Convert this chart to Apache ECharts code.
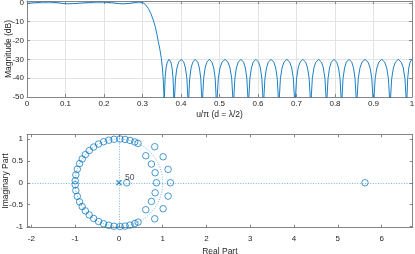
<!DOCTYPE html>
<html><head><meta charset="utf-8">
<script src="https://cdn.jsdelivr.net/npm/echarts@6/dist/echarts.min.js"></script>
<style>html,body{margin:0;padding:0;background:#fff}#c{width:415px;height:254px}</style>
</head><body><div id="c"></div>
<script>
// ---------- Top panel: magnitude response, [u/pi, dB] ----------
const passband = [[0,-0.2],[0.02,0.1],[0.04,0.35],[0.06,0.4],[0.08,0.1],[0.1,-0.5],[0.12,-0.4],
  [0.14,-0.1],[0.16,0.2],[0.18,0.4],[0.2,0.4],[0.22,0.1],[0.24,-0.4],[0.25,-0.5],[0.265,-0.3],
  [0.28,0.2],[0.29,0.4],[0.296,0.3]];
const transition = [[0.302,0],[0.308,-1],[0.315,-2.9],[0.322,-5.8],[0.328,-9.1],[0.333,-12.5],
  [0.337,-16.2],[0.341,-20.5],[0.3455,-25.1],[0.349,-29.5],[0.3515,-34],[0.354,-41],[0.3555,-48]];
const stopband = [
  [0.356,-55],[0.3586,-40.2],[0.3612,-34.6],[0.3643,-31.5],[0.369,-30],[0.3737,-31.5],[0.3768,-34.6],[0.3794,-40.2],
  [0.382,-55],[0.3857,-40.2],[0.3894,-34.6],[0.3938,-31.5],[0.4005,-30],[0.4072,-31.5],[0.4116,-34.6],[0.4153,-40.2],
  [0.419,-55],[0.4226,-40.2],[0.4262,-34.6],[0.4305,-31.5],[0.437,-30],[0.4435,-31.5],[0.4478,-34.6],[0.4514,-40.2],
  [0.455,-55],[0.4588,-40.2],[0.4625,-34.6],[0.467,-31.5],[0.4738,-30],[0.4805,-31.5],[0.485,-34.6],[0.4888,-40.2],
  [0.4925,-55],[0.4969,-40.2],[0.5012,-34.6],[0.5064,-31.5],[0.5143,-30],[0.5221,-31.5],[0.5273,-34.6],[0.5317,-40.2],
  [0.536,-55],[0.5399,-40.2],[0.5438,-34.6],[0.5485,-31.5],[0.5555,-30],[0.5625,-31.5],[0.5672,-34.6],[0.5711,-40.2],
  [0.575,-55],[0.5789,-40.2],[0.5828,-34.6],[0.5875,-31.5],[0.5945,-30],[0.6015,-31.5],[0.6062,-34.6],[0.6101,-40.2],
  [0.614,-55],[0.618,-40.2],[0.622,-34.6],[0.6268,-31.5],[0.634,-30],[0.6412,-31.5],[0.646,-34.6],[0.65,-40.2],
  [0.654,-55],[0.6582,-40.2],[0.6624,-34.6],[0.6674,-31.5],[0.675,-30],[0.6826,-31.5],[0.6876,-34.6],[0.6918,-40.2],
  [0.696,-55],[0.7001,-40.2],[0.7042,-34.6],[0.7091,-31.5],[0.7165,-30],[0.7239,-31.5],[0.7288,-34.6],[0.7329,-40.2],
  [0.737,-55],[0.7411,-40.2],[0.7452,-34.6],[0.7501,-31.5],[0.7575,-30],[0.7649,-31.5],[0.7698,-34.6],[0.7739,-40.2],
  [0.778,-55],[0.7819,-40.2],[0.7858,-34.6],[0.7905,-31.5],[0.7975,-30],[0.8045,-31.5],[0.8092,-34.6],[0.8131,-40.2],
  [0.817,-55],[0.8209,-40.2],[0.8248,-34.6],[0.8295,-31.5],[0.8365,-30],[0.8435,-31.5],[0.8482,-34.6],[0.8521,-40.2],
  [0.856,-55],[0.8604,-40.2],[0.8648,-34.6],[0.8701,-31.5],[0.878,-30],[0.8859,-31.5],[0.8912,-34.6],[0.8956,-40.2],
  [0.9,-55],[0.9043,-40.2],[0.9086,-34.6],[0.9138,-31.5],[0.9215,-30],[0.9292,-31.5],[0.9344,-34.6],[0.9387,-40.2],
  [0.943,-55],[0.9473,-40.2],[0.9516,-34.6],[0.9568,-31.5],[0.9645,-30],[0.9722,-31.5],[0.9774,-34.6],[0.9817,-40.2],
  [0.986,-55],[0.9888,-40.2],[0.9916,-34.6],[0.995,-31.5],[1.0,-30]];

// ---------- Bottom panel: zeros and poles, [real, imag] ----------
const zerosOnCircleUpper = [[0.4371,0.8994],[0.3623,0.9321],[0.2517,0.9678],[0.1409,0.9900],[0.0236,0.9997],
  [-0.1129,0.9936],[-0.2334,0.9724],[-0.3505,0.9366],[-0.4651,0.8853],[-0.5775,0.8164],[-0.6779,0.7352],
  [-0.7664,0.6423],[-0.8393,0.5437],[-0.8994,0.4371],[-0.9511,0.3090],[-0.9840,0.1782],[-0.9990,0.0440]];
const zerosOnCircleLower = [[0.4371,-0.8994],[0.3623,-0.9321],[0.2517,-0.9678],[0.1409,-0.9900],[0.0236,-0.9997],
  [-0.1129,-0.9936],[-0.2334,-0.9724],[-0.3505,-0.9366],[-0.4651,-0.8853],[-0.5775,-0.8164],[-0.6779,-0.7352],
  [-0.7664,-0.6423],[-0.8393,-0.5437],[-0.8994,-0.4371],[-0.9511,-0.3090],[-0.9840,-0.1782],[-0.9990,-0.0440]];
const zerosOffCircle = [[0.818,0.823],[0.818,-0.823],[0.613,0.617],[0.613,-0.617],[1.009,0.594],[1.009,-0.594],
  [0.742,0.427],[0.742,-0.427],[1.123,0.305],[1.123,-0.305],[0.826,0.229],[0.826,-0.229],
  [1.176,0],[0.856,0],[0.178,0],[5.62,0]];
const poles = [[0,0]];
const poleMultiplicity = '50';

// ---------- tick values ----------
const zRealTicks = [-2,-1,0,1,2,3,4,5,6];
const zImagTicks = [-1,-0.5,0,0.5,1];
const unitRadius = 1;

const BLUE = '#0072BD', AX = '#858585', TXT = '#262626';
const FF = '"Liberation Sans", Arial, Helvetica, sans-serif';

const unitCircle = [];
for (let d = 0; d <= 360; d += 2) {
  const a = d * Math.PI / 180;
  unitCircle.push([unitRadius * Math.cos(a), unitRadius * Math.sin(a)]);
}

const axLine = {onZero:false, lineStyle:{color:AX, width:1}};
const tick = {inside:true, length:3, lineStyle:{color:AX, width:1}};
const lab = {color:TXT, fontSize:8, fontFamily:FF};
const nameStyle = {color:TXT, fontSize:8.5, fontFamily:FF};

const chart = echarts.init(document.getElementById('c'), null, {renderer:'canvas'});
chart.setOption({
  animation:false,
  backgroundColor:'#fff',
  grid:[{left:27, right:3, top:1, height:96, containLabel:false, outerBoundsMode:'none'},
        {left:27, right:2.3, top:134.3, height:93.4, containLabel:false, outerBoundsMode:'none'}],
  xAxis:[
    {gridIndex:0, type:'value', min:0, max:1, interval:0.1, position:'bottom',
     axisLine:axLine, axisTick:tick, axisLabel:Object.assign({margin:3}, lab),
     splitLine:{show:true, lineStyle:{color:'#e3e3e3', width:1}},
     name:'u/π (d = λ/2)', nameLocation:'middle', nameGap:13, nameMoveOverlap:false, nameTextStyle:nameStyle},
    {gridIndex:0, type:'value', min:0, max:1, interval:0.1, position:'top',
     axisLine:axLine, axisTick:tick, axisLabel:{show:false}, splitLine:{show:false}},
    {gridIndex:1, type:'value', min:-2.1, max:6.71, position:'bottom',
     axisLine:axLine, axisTick:Object.assign({customValues:zRealTicks}, tick),
     axisLabel:Object.assign({customValues:zRealTicks, margin:7}, lab),
     splitLine:{show:false},
     name:'Real Part', nameLocation:'middle', nameGap:19, nameMoveOverlap:false, nameTextStyle:nameStyle},
    {gridIndex:1, type:'value', min:-2.1, max:6.71, position:'top',
     axisLine:axLine, axisTick:Object.assign({customValues:zRealTicks}, tick),
     axisLabel:{show:false}, splitLine:{show:false}}
  ],
  yAxis:[
    {gridIndex:0, type:'value', min:-50, max:1, interval:10, position:'left',
     axisLine:axLine, axisTick:tick,
     axisLabel:Object.assign({margin:3, formatter:v => (v % 10 === 0 ? String(v) : '')}, lab),
     splitLine:{show:true, lineStyle:{color:'#e3e3e3', width:1}},
     name:'Magnitude (dB)', nameLocation:'middle', nameGap:14, nameMoveOverlap:false, nameTextStyle:nameStyle},
    {gridIndex:0, type:'value', min:-50, max:1, interval:10, position:'right',
     axisLine:axLine, axisTick:tick, axisLabel:{show:false}, splitLine:{show:false}},
    {gridIndex:1, type:'value', min:-1.027, max:1.107, position:'left',
     axisLine:axLine, axisTick:Object.assign({customValues:zImagTicks}, tick),
     axisLabel:Object.assign({customValues:zImagTicks, margin:4}, lab),
     splitLine:{show:false},
     name:'Imaginary Part', nameLocation:'middle', nameGap:17, nameMoveOverlap:false, nameTextStyle:nameStyle},
    {gridIndex:1, type:'value', min:-1.027, max:1.107, position:'right',
     axisLine:axLine, axisTick:Object.assign({customValues:zImagTicks}, tick),
     axisLabel:{show:false}, splitLine:{show:false}}
  ],
  series:[
    {type:'line', xAxisIndex:0, yAxisIndex:0, data:passband.concat(transition, stopband),
     showSymbol:false, clip:true, silent:true, lineStyle:{color:BLUE, width:0.9}},
    {type:'line', xAxisIndex:2, yAxisIndex:2, data:unitCircle, showSymbol:false, silent:true,
     lineStyle:{color:BLUE, width:0.7, type:[1,1.6], opacity:0.75},
     markLine:{silent:true, symbol:'none', label:{show:false},
       lineStyle:{color:BLUE, width:0.7, type:[1,1.6], opacity:0.75},
       data:[{xAxis:0},{yAxis:0}]}},
    {type:'scatter', xAxisIndex:2, yAxisIndex:2,
     data:zerosOnCircleUpper.concat(zerosOnCircleLower, zerosOffCircle),
     symbol:'circle', symbolSize:6.5, silent:true,
     itemStyle:{color:'rgba(0,0,0,0)', borderColor:BLUE, borderWidth:0.9}},
    {type:'scatter', xAxisIndex:2, yAxisIndex:2, data:poles, silent:true,
     symbol:'path://M0,0L10,10M10,0L0,10', symbolSize:5,
     itemStyle:{color:BLUE, borderColor:BLUE, borderWidth:1.2},
     label:{show:true, formatter:poleMultiplicity, position:'right', distance:3, offset:[0,-5],
       color:TXT, fontSize:8.5, fontFamily:FF}}
  ]
});
</script></body></html>
